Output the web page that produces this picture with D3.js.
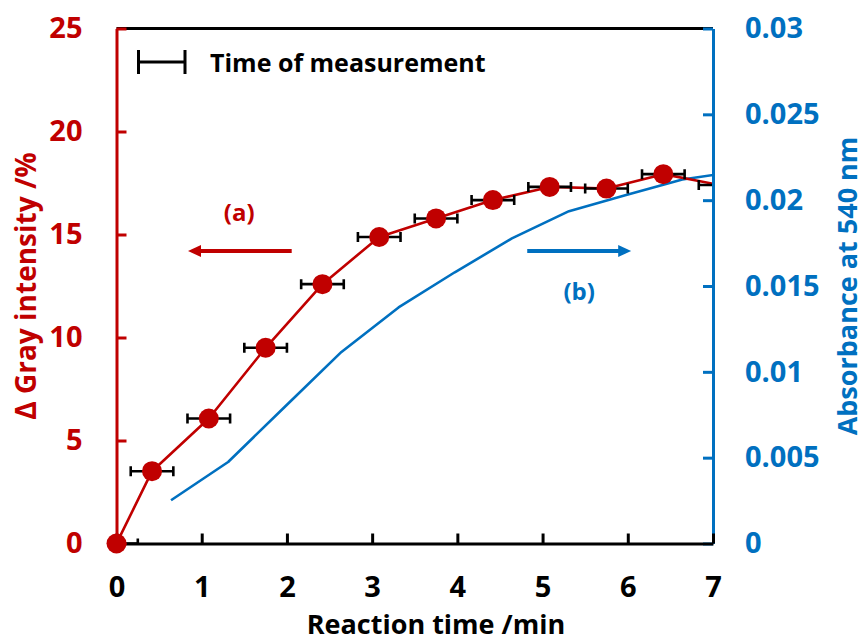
<!DOCTYPE html>
<html>
<head>
<meta charset="utf-8">
<script src="https://cdn.jsdelivr.net/npm/d3@7"></script>
<style>
  html, body { margin: 0; padding: 0; background: #fff; }
  svg { display: block; }
  text { font-family: "Open Sans", "Noto Sans", sans-serif; font-weight: 700; }
</style>
</head>
<body>
<svg id="chart" width="864" height="644"></svg>
<script>
// Gray intensity change measured on the strip (series a, left axis)
const measureTime = [0, 0.417, 1.083, 1.75, 2.417, 3.083, 3.75, 4.417, 5.083, 5.75, 6.417, 7.083];
const grayIntensity = [0, 3.51, 6.07, 9.5, 12.59, 14.88, 15.78, 16.67, 17.31, 17.23, 17.93, 17.4];
// half-width of each measurement window, minutes
const measureHalfWidth = [0.25, 0.25, 0.25, 0.25, 0.25, 0.25, 0.25, 0.25, 0.25, 0.25, 0.25, 0.25];

// Absorbance of the solution at 540 nm (series b, right axis)
const absTime = [0.64, 1.31, 1.97, 2.64, 3.31, 3.97, 4.64, 5.31, 5.97, 6.64, 7.3];
const absorbance = [0.00252, 0.00475, 0.00794, 0.01116, 0.01375, 0.0158, 0.01777, 0.01936, 0.02029, 0.0212, 0.02169];

// Axis ticks
const xTicks = [0, 1, 2, 3, 4, 5, 6, 7];
const leftTicks = [0, 5, 10, 15, 20, 25];
const rightTicks = [0, 0.005, 0.01, 0.015, 0.02, 0.025, 0.03];
const rightTickLabels = ["0", "0.005", "0.01", "0.015", "0.02", "0.025", "0.03"];

const RED = "#C00000";
const BLUE = "#0070C0";

const svg = d3.select("#chart");
const plotLeft = 116.5, plotRight = 713, plotTop = 28.5, plotBottom = 543.5;

const x = d3.scaleLinear().domain([0, 7]).range([plotLeft, plotRight]);
const yL = d3.scaleLinear().domain([0, 25]).range([plotBottom, plotTop]);
const yR = d3.scaleLinear().domain([0, 0.03]).range([plotBottom, plotTop]);

svg.append("defs").append("clipPath").attr("id", "plotClip")
  .append("rect")
  .attr("x", plotLeft).attr("y", plotTop)
  .attr("width", plotRight - plotLeft).attr("height", plotBottom - plotTop);

// top frame line
svg.append("line")
  .attr("x1", plotLeft).attr("x2", plotRight)
  .attr("y1", plotTop).attr("y2", plotTop)
  .attr("stroke", "#000").attr("stroke-width", 3);

const plot = svg.append("g").attr("clip-path", "url(#plotClip)");

// series b: absorbance
const absData = absTime.map((t, i) => ({ t, v: absorbance[i] }));
plot.append("path")
  .datum(absData)
  .attr("fill", "none")
  .attr("stroke", BLUE)
  .attr("stroke-width", 2.6)
  .attr("stroke-linejoin", "round")
  .attr("d", d3.line().x(d => x(d.t)).y(d => yR(d.v)));

// series a: gray intensity
const grayData = measureTime.map((t, i) => ({ t, v: grayIntensity[i], e: measureHalfWidth[i] }));
plot.append("path")
  .datum(grayData)
  .attr("fill", "none")
  .attr("stroke", RED)
  .attr("stroke-width", 2.6)
  .attr("stroke-linejoin", "round")
  .attr("d", d3.line().x(d => x(d.t)).y(d => yL(d.v)));

// measurement windows as horizontal error bars
const capH = 5;
const eb = plot.append("g").attr("stroke", "#000").attr("stroke-width", 2.6).attr("fill", "none");
eb.selectAll("path.bar")
  .data(grayData)
  .join("path")
  .attr("class", "bar")
  .attr("d", d => {
    const x0 = x(d.t - d.e), x1 = x(d.t + d.e), y = yL(d.v);
    return `M${x0},${y - capH}V${y + capH}M${x0},${y}H${x1}M${x1},${y - capH}V${y + capH}`;
  });

// axes: ticks point into the plot
const rightAxis = d3.axisRight(yR)
  .tickValues(rightTicks)
  .tickFormat((d, i) => rightTickLabels[i])
  .tickSizeInner(-10).tickSizeOuter(0).tickPadding(32);
const gR = svg.append("g").attr("transform", `translate(${plotRight},0)`).call(rightAxis);
gR.attr("font-family", null).attr("font-size", 29);
gR.select(".domain").attr("stroke", BLUE).attr("stroke-width", 3);
gR.selectAll(".tick line").attr("stroke", BLUE).attr("stroke-width", 3);
gR.selectAll(".tick text").attr("fill", BLUE);

const bottomAxis = d3.axisBottom(x)
  .tickValues(xTicks)
  .tickFormat(d3.format("d"))
  .tickSizeInner(-10).tickSizeOuter(0).tickPadding(33);
const gB = svg.append("g").attr("transform", `translate(0,${plotBottom})`).call(bottomAxis);
gB.attr("font-family", null).attr("font-size", 29);
gB.select(".domain").attr("stroke", "#000").attr("stroke-width", 3);
gB.selectAll(".tick line").attr("stroke", "#000").attr("stroke-width", 3);
gB.selectAll(".tick text").attr("fill", "#000");

const leftAxis = d3.axisLeft(yL)
  .tickValues(leftTicks)
  .tickFormat(d3.format("d"))
  .tickSizeInner(-10).tickSizeOuter(0).tickPadding(34);
const gL = svg.append("g").attr("transform", `translate(${plotLeft},0)`).call(leftAxis);
gL.attr("font-family", null).attr("font-size", 29);
gL.select(".domain").attr("stroke", RED).attr("stroke-width", 3);
gL.selectAll(".tick line").attr("stroke", RED).attr("stroke-width", 3);
gL.selectAll(".tick text").attr("fill", RED);

// markers for the points inside the time range
svg.append("g")
  .selectAll("circle")
  .data(grayData.filter(d => d.t <= 7))
  .join("circle")
  .attr("cx", d => x(d.t))
  .attr("cy", d => yL(d.v))
  .attr("r", 10)
  .attr("fill", RED);

// axis titles
svg.append("text")
  .attr("x", 436).attr("y", 634)
  .attr("text-anchor", "middle")
  .attr("font-size", 27)
  .attr("fill", "#000")
  .text("Reaction time /min");

svg.append("text")
  .attr("transform", "translate(36,286) rotate(-90)")
  .attr("text-anchor", "middle")
  .attr("font-size", 28)
  .attr("fill", RED)
  .text("Δ Gray intensity /%");

svg.append("text")
  .attr("transform", "translate(857,286) rotate(-90)")
  .attr("text-anchor", "middle")
  .attr("font-size", 27)
  .attr("fill", BLUE)
  .text("Absorbance at 540 nm");

// legend
const lg = svg.append("g").attr("stroke", "#000").attr("stroke-width", 3);
lg.append("path").attr("d", "M138.5,50V74M138.5,62H185M185,50V74").attr("fill", "none");
svg.append("text")
  .attr("x", 210).attr("y", 72)
  .attr("font-size", 25)
  .attr("fill", "#000")
  .text("Time of measurement");

// direction arrows and series labels
function arrow(x0, x1, y, color) {
  const dir = Math.sign(x1 - x0);
  const head = 13, half = 6;
  svg.append("line")
    .attr("x1", x0).attr("x2", x1 - dir * head + dir)
    .attr("y1", y).attr("y2", y)
    .attr("stroke", color).attr("stroke-width", 4);
  svg.append("path")
    .attr("d", `M${x1},${y}L${x1 - dir * head},${y - half}L${x1 - dir * head},${y + half}Z`)
    .attr("fill", color);
}
arrow(x(2.056), x(0.839), yL(14.2), RED);
arrow(x(4.82), x(6.04), yL(14.2), BLUE);

svg.append("text")
  .attr("x", x(1.44)).attr("y", yL(15.65))
  .attr("text-anchor", "middle")
  .attr("font-size", 24)
  .attr("fill", RED)
  .text("(a)");

svg.append("text")
  .attr("x", x(5.43)).attr("y", yL(11.82))
  .attr("text-anchor", "middle")
  .attr("font-size", 24)
  .attr("fill", BLUE)
  .text("(b)");
</script>
</body>
</html>
